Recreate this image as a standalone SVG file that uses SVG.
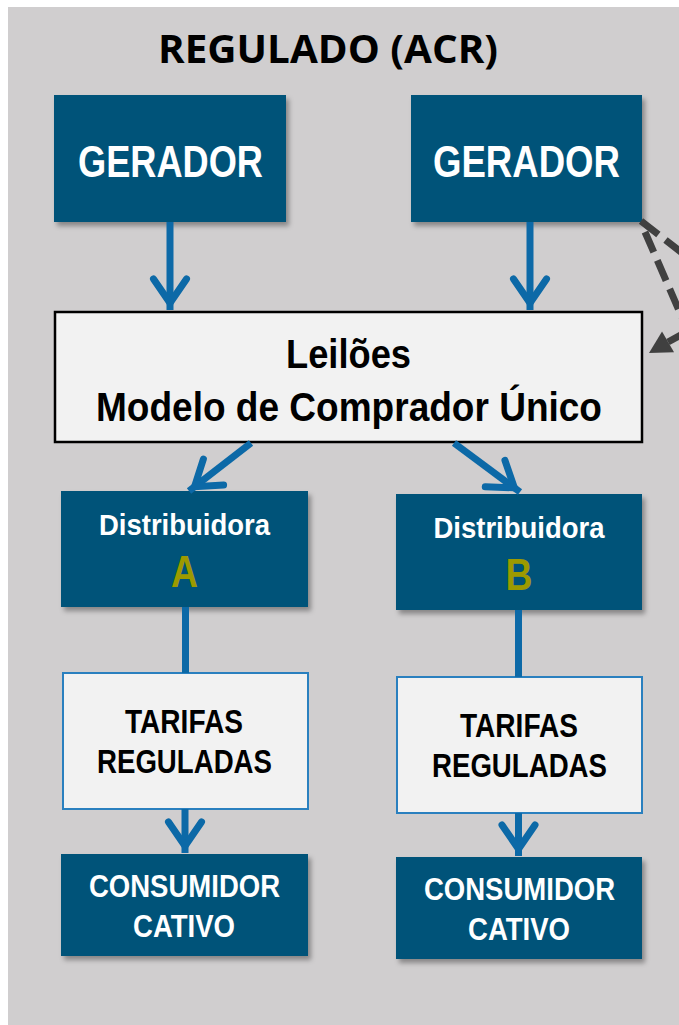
<svg xmlns="http://www.w3.org/2000/svg" width="679" height="1025" viewBox="0 0 679 1025">
<style>
.dark{fill:#005279;filter:url(#sh)}
.light{fill:#F2F2F2}
.lei{stroke:#000;stroke-width:2.5}
.tar{stroke:#2A80BF;stroke-width:2}
.t{font-family:"Liberation Sans",Arial,sans-serif;font-weight:bold;text-anchor:middle}
.w{fill:#fff}
.k{fill:#000}
.ol{fill:#9C9A00}
.blue{stroke:#0C69A7;stroke-width:7;fill:none}
.dash{stroke:#404040;stroke-width:7;fill:none;stroke-dasharray:22 9}
</style>
<defs>
<filter id="sh" x="-10%" y="-10%" width="130%" height="130%">
<feDropShadow dx="3" dy="4" stdDeviation="2.5" flood-color="#000" flood-opacity="0.35"/>
</filter>
<marker id="chev" markerUnits="userSpaceOnUse" markerWidth="60" markerHeight="60" viewBox="-40 -30 60 60" refX="0" refY="0" orient="auto" overflow="visible">
<path d="M-31,-16.5 L-7,0 L-31,16.5" stroke="#0C69A7" stroke-width="7" fill="none" stroke-linecap="round" stroke-linejoin="miter" stroke-miterlimit="10"/>
</marker>
<marker id="tri" markerUnits="userSpaceOnUse" markerWidth="40" markerHeight="40" viewBox="-30 -20 40 40" refX="0" refY="0" orient="auto" overflow="visible">
<path d="M0,0 L-22,-12 L-22,12 Z" fill="#404040"/>
</marker>
</defs>
<rect x="8" y="7" width="671" height="1018" fill="#D0CECF"/>
<text x="328" y="63" font-family="'Open Sans',Lato,sans-serif" font-weight="bold" font-size="40" text-anchor="middle" textLength="340" lengthAdjust="spacingAndGlyphs" fill="#000">REGULADO (ACR)</text>
<g id="gerador1">
<rect class="dark" x="54" y="95" width="232" height="127"/>
<text class="t w" x="170.5" y="177" font-size="44" textLength="185" lengthAdjust="spacingAndGlyphs">GERADOR</text>
</g>
<g id="gerador2">
<rect class="dark" x="411" y="95" width="231" height="127"/>
<text class="t w" x="526.5" y="177" font-size="44" textLength="187" lengthAdjust="spacingAndGlyphs">GERADOR</text>
</g>
<g id="leiloes">
<rect class="light lei" x="55" y="312" width="587" height="130"/>
<text class="t k" x="348.5" y="368" font-size="41" textLength="125" lengthAdjust="spacingAndGlyphs">Leilões</text>
<text class="t k" x="349" y="421" font-size="41" textLength="506" lengthAdjust="spacingAndGlyphs">Modelo de Comprador Único</text>
</g>
<g id="distA">
<rect class="dark" x="61" y="491" width="247" height="116"/>
<text class="t w" x="184.5" y="535" font-size="30" textLength="171" lengthAdjust="spacingAndGlyphs">Distribuidora</text>
<text class="t ol" x="184.5" y="587" font-size="44" textLength="27" lengthAdjust="spacingAndGlyphs">A</text>
</g>
<g id="distB">
<rect class="dark" x="396" y="494" width="246" height="116"/>
<text class="t w" x="519" y="538" font-size="30" textLength="171" lengthAdjust="spacingAndGlyphs">Distribuidora</text>
<text class="t ol" x="519" y="590" font-size="44" textLength="27" lengthAdjust="spacingAndGlyphs">B</text>
</g>
<g id="tarifasA">
<rect class="light tar" x="63" y="673" width="245" height="136"/>
<text class="t k" x="184" y="733" font-size="33" textLength="118" lengthAdjust="spacingAndGlyphs">TARIFAS</text>
<text class="t k" x="184.5" y="773" font-size="33" textLength="175" lengthAdjust="spacingAndGlyphs">REGULADAS</text>
</g>
<g id="tarifasB">
<rect class="light tar" x="397" y="677" width="245" height="136"/>
<text class="t k" x="519" y="737" font-size="33" textLength="118" lengthAdjust="spacingAndGlyphs">TARIFAS</text>
<text class="t k" x="519.5" y="777" font-size="33" textLength="175" lengthAdjust="spacingAndGlyphs">REGULADAS</text>
</g>
<g id="consumidorA">
<rect class="dark" x="61" y="854" width="247" height="102"/>
<text class="t w" x="184.5" y="897" font-size="31" textLength="191" lengthAdjust="spacingAndGlyphs">CONSUMIDOR</text>
<text class="t w" x="184" y="937" font-size="31" textLength="102" lengthAdjust="spacingAndGlyphs">CATIVO</text>
</g>
<g id="consumidorB">
<rect class="dark" x="396" y="857" width="246" height="102"/>
<text class="t w" x="519.5" y="900" font-size="31" textLength="191" lengthAdjust="spacingAndGlyphs">CONSUMIDOR</text>
<text class="t w" x="519" y="940" font-size="31" textLength="102" lengthAdjust="spacingAndGlyphs">CATIVO</text>
</g>
<g id="connectors">
<path class="blue" d="M170,222 L170,310" marker-end="url(#chev)"/>
<path class="blue" d="M530,222 L530,310" marker-end="url(#chev)"/>
<path class="blue" d="M251,443 L189,491" marker-end="url(#chev)"/>
<path class="blue" d="M454,443 L520,492" marker-end="url(#chev)"/>
<path class="blue" d="M185.5,607 L185.5,673"/>
<path class="blue" d="M518.5,610 L518.5,677"/>
<path class="blue" d="M185,809 L185,853" marker-end="url(#chev)"/>
<path class="blue" d="M518.5,813 L518.5,856" marker-end="url(#chev)"/>
<path class="dash" d="M641,221 L690,259"/>
<path class="dash" d="M645,232 L684,322"/>
<path class="dash" d="M695,327 L668,342" style="stroke-dasharray:none"/>
<path d="M668,342 L649,353" stroke="none" fill="none" marker-end="url(#tri)"/>
</g>
</svg>
